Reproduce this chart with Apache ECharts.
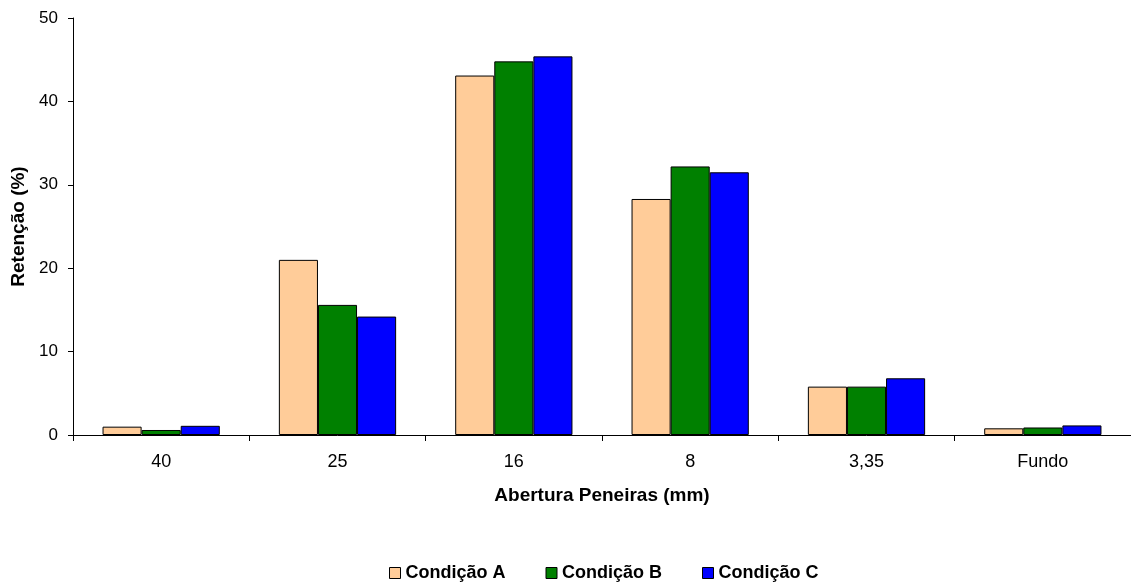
<!DOCTYPE html>
<html>
<head>
<meta charset="utf-8">
<script src="https://cdn.jsdelivr.net/npm/echarts@6/dist/echarts.min.js"></script>
<style>
  html, body { margin: 0; padding: 0; background: #fff; }
  #chart { width: 1131px; height: 586px; }
</style>
</head>
<body>
<div id="chart"></div>
<script>
// Sieve openings (mm) and retained fraction per condition
const categories = ['40', '25', '16', '8', '3,35', 'Fundo'];
const condicaoA = [1.0, 21.0, 43.1, 28.3, 5.8, 0.8];
const condicaoB = [0.6, 15.6, 44.8, 32.2, 5.8, 0.9];
const condicaoC = [1.1, 14.2, 45.4, 31.5, 6.8, 1.15];
const seriesNames = ['Condição A', 'Condição B', 'Condição C'];
const seriesColors = ['#FFCC99', '#008000', '#0000FF'];

const FONT = '"Liberation Sans", Arial, sans-serif';
const chart = echarts.init(document.getElementById('chart'), null, { renderer: 'canvas' });

const makeSeries = (name, data, color) => ({
  name: name,
  type: 'bar',
  data: data,
  barGap: '0%',
  barCategoryGap: '33.5%',
  itemStyle: { color: color, borderColor: '#000', borderWidth: 1 },
  emphasis: { disabled: true }
});

chart.setOption({
  animation: false,
  backgroundColor: '#fff',
  textStyle: { fontFamily: FONT },
  grid: { left: 73, right: 0, top: 18, bottom: 151, containLabel: false },
  legend: {
    left: 384,
    top: 559,
    itemWidth: 11,
    itemHeight: 11,
    itemGap: 40,
    icon: 'rect',
    textStyle: { fontFamily: FONT, fontSize: 18, fontWeight: 'bold', color: '#000' },
    data: seriesNames.map((n, i) => ({
      name: n,
      itemStyle: { color: seriesColors[i], borderColor: '#000', borderWidth: 1 }
    }))
  },
  xAxis: {
    type: 'category',
    data: categories,
    boundaryGap: true,
    name: 'Abertura Peneiras (mm)',
    nameLocation: 'middle',
    nameGap: 51,
    nameTextStyle: { fontFamily: FONT, fontSize: 19, fontWeight: 'bold', color: '#000' },
    axisLine: { lineStyle: { color: '#000', width: 1 } },
    axisTick: { show: true, length: 6, lineStyle: { color: '#000' } },
    axisLabel: { fontFamily: FONT, fontSize: 18, color: '#000', margin: 18 }
  },
  yAxis: {
    type: 'value',
    min: 0,
    max: 50,
    interval: 10,
    name: 'Retenção (%)',
    nameLocation: 'middle',
    nameGap: 45,
    nameRotate: 90,
    nameTextStyle: { fontFamily: FONT, fontSize: 19, fontWeight: 'bold', color: '#000' },
    axisLine: { show: true, lineStyle: { color: '#000', width: 1 } },
    axisTick: { show: true, length: 5, lineStyle: { color: '#000' } },
    axisLabel: { fontFamily: FONT, fontSize: 17, color: '#000', margin: 15 },
    splitLine: { show: false }
  },
  series: [
    makeSeries(seriesNames[0], condicaoA, seriesColors[0]),
    makeSeries(seriesNames[1], condicaoB, seriesColors[1]),
    makeSeries(seriesNames[2], condicaoC, seriesColors[2])
  ]
});
</script>
</body>
</html>
